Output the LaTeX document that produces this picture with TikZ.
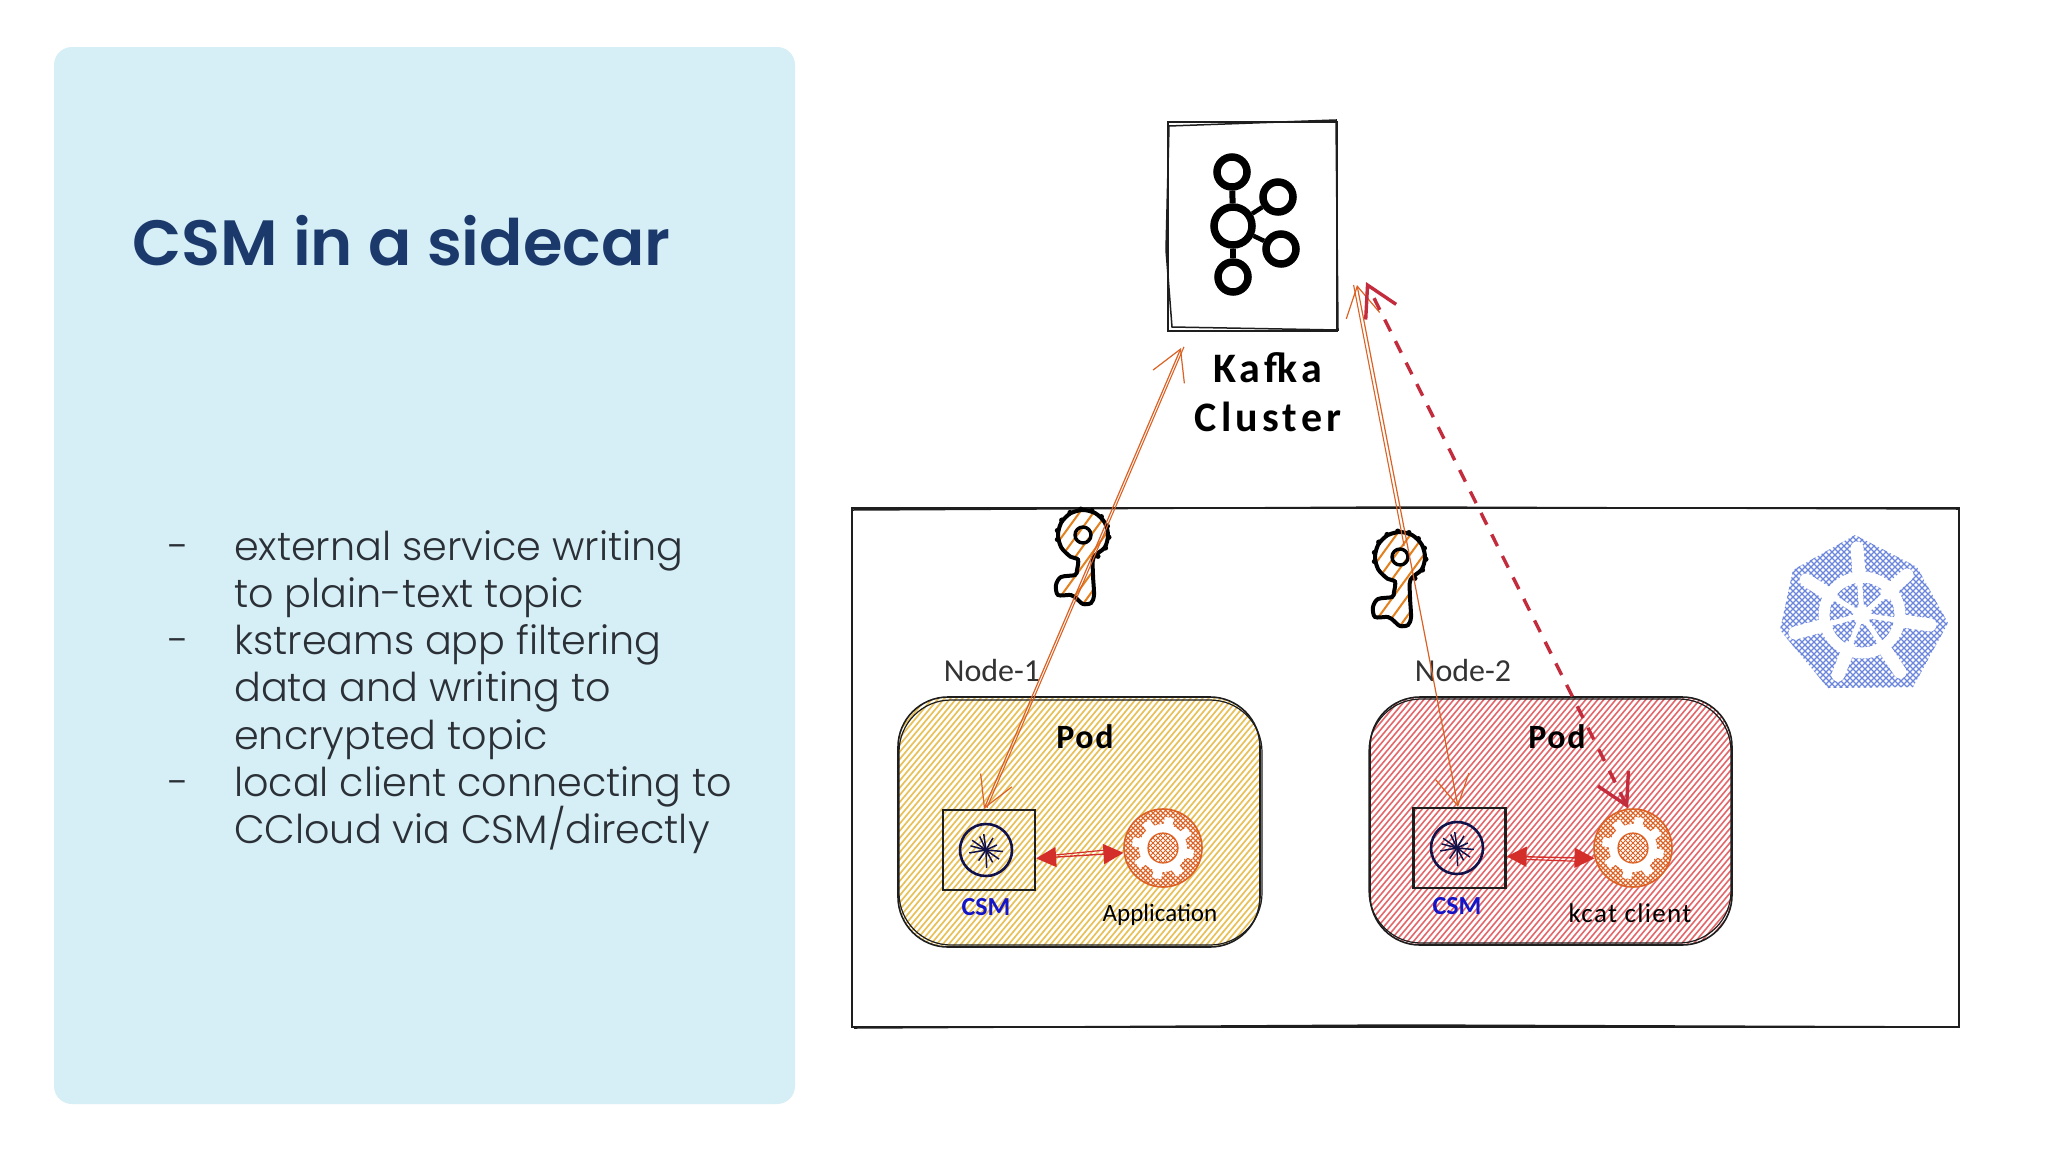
\documentclass[tikz,border=0pt]{standalone}
\usepackage{fontspec}
\setmainfont{Poppins}
\newfontfamily\titlefont{Poppins SemiBold}
\newfontfamily\bodyfont{Poppins Light}
\newfontfamily\handfont{Carlito}
\newfontfamily\handwide[LetterSpace=10]{Carlito}
\newfontfamily\handsemi[LetterSpace=5]{Carlito}
\usetikzlibrary{arrows.meta,calc}
\definecolor{panelc}{HTML}{D6EEF6}
\definecolor{titlec}{HTML}{1B3A6B}
\definecolor{bodyc}{HTML}{2A3036}
\definecolor{inkc}{HTML}{1E1E1E}
\definecolor{yellowh}{HTML}{E8C158}
\definecolor{redh}{HTML}{E4676B}
\definecolor{orangec}{HTML}{DB6224}
\definecolor{redc}{HTML}{C22C3C}
\definecolor{redb}{HTML}{D42E2A}
\definecolor{navyc}{HTML}{12124A}
\definecolor{csmc}{HTML}{1515C8}
\definecolor{kubec}{HTML}{6C86DC}
\definecolor{nodec}{HTML}{333333}
\tikzset{
  sketch/.style={draw=inkc,line width=1.5pt},
  podbox/.style={draw=inkc,line width=1.6pt,rounded corners=50pt,minimum width=362pt,minimum height=250pt,inner sep=0pt},
  csmbox/.style={draw=inkc,line width=2.2pt,minimum width=92pt,minimum height=80pt,inner sep=0pt},
  csmring/.style={circle,draw=navyc,line width=2.6pt,minimum size=52pt,inner sep=0pt},
  gearnode/.style={circle,draw=orangec,line width=1.6pt,fill=white,minimum size=78pt,inner sep=0pt},
  kring/.style={circle,draw=black,line width=7.5pt,inner sep=0pt},
  link/.style={draw=black,line width=6pt},
  oarrow/.style={draw=orangec,line width=1.2pt,{Straight Barb[length=30pt,width=34pt]}-{Straight Barb[length=30pt,width=34pt]}},
  othin/.style={draw=orangec,line width=1.1pt},
  darrow/.style={draw=redc,line width=3.4pt,dash pattern=on 13pt off 11pt,{Straight Barb[length=30pt,width=34pt]}-{Straight Barb[length=30pt,width=34pt]}},
  barrow/.style={draw=redb,line width=1.4pt,{Triangle[length=20pt,width=20pt]}-{Triangle[length=20pt,width=20pt]}},
  bthin/.style={draw=redb,line width=1.2pt},
  bullettext/.style={anchor=base west,text=bodyc,inner sep=0pt,font=\bodyfont\fontsize{39.7}{39.7}\selectfont},
  bigtag/.style={inner sep=0pt,text=black,font=\handwide\bfseries\fontsize{42}{42}\selectfont},
  podtag/.style={inner sep=0pt,text=black,font=\handsemi\bfseries\fontsize{34}{34}\selectfont},
  smalltag/.style={inner sep=0pt,text=black,font=\handfont\fontsize{25}{25}\selectfont},
  kcattag/.style={inner sep=0pt,text=black,font=\handsemi\fontsize{27}{27}\selectfont},
  csmlabel/.style={inner sep=0pt,text=csmc,font=\handfont\bfseries\fontsize{26}{26}\selectfont},
  nodelabel/.style={inner sep=0pt,text=nodec,font=\handfont\fontsize{32}{32}\selectfont},
}
\newcommand{\rays}[2]{%
  \foreach \a/\r in {5/17,35/16,62/14,88/18,125/13,170/17,195/16,215/17,245/15,262/16,300/14,335/12}
    \draw[navyc,line width=1.5pt] (#1,#2) -- ++(\a:\r);
}
\newcommand{\gearicon}[3]{%
  \node[gearnode] (#1) at (#2,#3) {};
  \begin{scope}[shift={(#2,#3)}]
    \begin{scope}
      \clip (0,0) circle[radius=39];
      \foreach \i in {-55,-50,...,55} {
        \draw[orangec,line width=1.1pt] (\i-50,-50) -- (\i+50,50);
        \draw[orangec,line width=1.1pt] (\i-50,50) -- (\i+50,-50);
      }
    \end{scope}
    \fill[white] (0,0) circle[radius=24];
    \foreach \a in {0,45,...,315}
      \draw[white,line width=9pt] (0,0) -- (\a+12:31);
    \begin{scope}
      \clip (0,0) circle[radius=15];
      \foreach \i in {-20,-15,...,20} {
        \draw[orangec,line width=.9pt] (\i-20,-20) -- (\i+20,20);
        \draw[orangec,line width=.9pt] (\i-20,20) -- (\i+20,-20);
      }
    \end{scope}
    \draw[orangec,line width=1.2pt] (0,0) circle[radius=15];
  \end{scope}
}
\newcommand{\keypath}{plot[smooth cycle,tension=0.5] coordinates {(10.5,22.7)(21.7,12.5)(25,0)(21.7,-12.5)(12.5,-21.7)(0,-25)(-12.5,-21.7)(-21.7,-12.5)(-25,0)(-21.7,12.5)(-12.5,21.7)(-5,24.6)(-6,35)(-8,40)(-22,42)(-27,50)(-25,60)(-12,60)(-6,64)(0,69)(8,68)(11,60)(10,40)}}
\newcommand{\keyicon}[3]{%
  \coordinate (#1) at (#2,#3);
  \begin{scope}[shift={(#2,#3)}]
    \begin{scope}
      \clip \keypath;
      \foreach \i in {-70,-56,...,70}
        \draw[orangec!80!yellow,line width=2pt] (\i-50,80) -- (\i+30,-30);
    \end{scope}
    \draw[black,line width=4pt] \keypath;
    \foreach \a in {-170,-145,...,60,170}
      \fill[black] (\a:26) circle[radius=2.6];
    \draw[black,line width=3.4pt] (0,0) circle[radius=8];
  \end{scope}
}
\begin{document}
\begin{tikzpicture}[x=1pt,y=-1pt]
\useasboundingbox (0,0) rectangle (2048,1152);
\fill[white] (0,0) rectangle (2048,1152);

% left panel
\fill[panelc,rounded corners=18pt] (54,47) rectangle (795,1104);
\node[anchor=base west,inner sep=0pt,text=titlec,font=\titlefont\fontsize{64}{64}\selectfont] (title) at (132,265) {CSM in a sidecar};
\foreach \n/\yy/\dd/\tt in {
  l1/560/1/{external service writing},
  l2/607/0/{to plain-text topic},
  l3/654/1/{kstreams app filtering},
  l4/701/0/{data and writing to},
  l5/749/0/{encrypted topic},
  l6/796/1/{local client connecting to},
  l7/843/0/{CCloud via CSM/directly}}
{
  \node[bullettext] (\n) at (234,\yy) {\tt};
  \ifnum\dd=1 \node[bullettext] (d\n) at (168,\yy) {-}; \fi
}

% Kafka box
\node[draw=inkc,line width=1.6pt,minimum width=169pt,minimum height=209pt,inner sep=0pt] (kafka) at (1252.5,226.5) {};
\draw[sketch] (1169,126) -- (1336,120) -- (1338,330) -- (1172,327) -- (1166,250) -- cycle;
% Kafka logo
\node[kring,minimum size=38pt] (kc) at (1233,226) {};
\node[kring,minimum size=30pt] (kt) at (1232,172) {};
\node[kring,minimum size=30pt] (kr) at (1278,197) {};
\node[kring,minimum size=30pt] (ks) at (1281,249) {};
\node[kring,minimum size=30pt] (kb) at (1233,277) {};
\draw[link] (kc) -- (kt);
\draw[link] (kc) -- (kb);
\draw[draw=black,line width=4.5pt] (kc) -- (kr);
\draw[draw=black,line width=4.5pt] (kc) -- (ks);
\node[bigtag] (kafkat) at (1268,368) {Kafka};
\node[bigtag] (clustert) at (1268,417) {Cluster};

% cluster rectangle
\node[draw=inkc,line width=1.6pt,minimum width=1107pt,minimum height=519pt,inner sep=0pt] (cluster) at (1405.5,767.5) {};
\draw[sketch] (852,510) -- (1400,507) -- (1959,509);
\draw[sketch] (854,1028) -- (1400,1025) -- (1959,1027);

% Kubernetes logo
\begin{scope}
  \clip (1855,535) -- (1917,567) -- (1948,623) -- (1913,687) -- (1828,688) -- (1780,630) -- (1793,570) -- cycle;
  \foreach \i in {-140,-134,...,140} {
    \draw[kubec,line width=1.3pt] (1864+\i-90,612-90) -- (1864+\i+90,612+90);
    \draw[kubec,line width=1.3pt] (1864+\i-90,612+90) -- (1864+\i+90,612-90);
  }
\end{scope}
\coordinate (kw) at (1862,615);
\draw[white,line width=11pt] (kw) circle[radius=38];
\fill[white] (kw) circle[radius=9];
\foreach \ex/\ey in {1857/548,1907/575,1930/625,1900/672,1838/675,1795/633,1806/580} {
  \draw[white,line width=5pt] (kw) -- (\ex,\ey);
  \draw[white,line width=13pt,line cap=round] ($(kw)!0.55!(\ex,\ey)$) -- (\ex,\ey);
}

% Pod 1
\begin{scope}
  \clip[rounded corners=50pt] (898,697) rectangle (1260,947);
  \foreach \i in {680,686,...,1260}
    \draw[yellowh,line width=1.7pt] (\i,950) -- (\i+215,693);
\end{scope}
\node[podbox] (pod1) at (1079,822) {};
\draw[draw=inkc,line width=1.2pt,rounded corners=52pt] (899,700) rectangle (1262,945);
\node[podtag] (pod1t) at (1085,737) {Pod};
\node[nodelabel] (node1t) at (992,670) {Node-1};
\node[csmbox] (csm1) at (989,850) {};
\node[csmring] (ring1) at (986,850) {};
\rays{986}{850}
\node[csmlabel] (csm1t) at (986,907) {CSM};
\gearicon{gear1}{1163}{848}
\node[smalltag] (app) at (1160,915) {Application};

% Pod 2
\begin{scope}
  \clip[rounded corners=50pt] (1370,697) rectangle (1732,945);
  \foreach \i in {1150,1156,...,1732}
    \draw[redh,line width=1.6pt] (\i,948) -- (\i+215,691);
\end{scope}
\node[podbox,minimum height=248pt] (pod2) at (1551,821) {};
\draw[draw=inkc,line width=1.2pt,rounded corners=52pt] (1369,699) rectangle (1731,943);
\node[podtag] (pod2t) at (1557,737) {Pod};
\node[nodelabel] (node2t) at (1463,670) {Node-2};
\node[csmbox] (csm2) at (1459.5,848) {};
\node[csmring] (ring2) at (1457,848) {};
\rays{1457}{848}
\node[csmlabel] (csm2t) at (1457,906) {CSM};
\gearicon{gear2}{1633}{848}
\node[kcattag] (kcat) at (1630,913) {kcat client};

% keys
\keyicon{key1}{1083}{535}
\keyicon{key2}{1400}{557}

% end points near the Kafka box
\coordinate (ka) at (1181,348);
\coordinate (kd) at (1357,285);
\coordinate (ke) at (1366,282);

% connectors
\draw[oarrow] (csm1.97) -- (ka);
\draw[othin,transform canvas={shift={(3pt,1.2pt)}}] (csm1.97) -- (ka);
\draw[oarrow] (csm2.92) -- (kd);
\draw[othin,transform canvas={shift={(-3.4pt,0pt)}}] ($(csm2.92)!0.5!(kd)$) -- (kd);
\draw[darrow] (gear2.97) -- (ke);
\draw[barrow] (csm1.-10) -- (gear1.187);
\draw[bthin,transform canvas={shift={(0pt,3pt)}}] ($(csm1.-10)+(16,0)$) -- ($(gear1.187)+(-16,0)$);
\draw[barrow] (csm2.-10) -- (gear2.195);
\draw[bthin,transform canvas={shift={(0pt,-3pt)}}] ($(csm2.-10)+(16,0)$) -- ($(gear2.195)+(-16,0)$);
\end{tikzpicture}
\end{document}
